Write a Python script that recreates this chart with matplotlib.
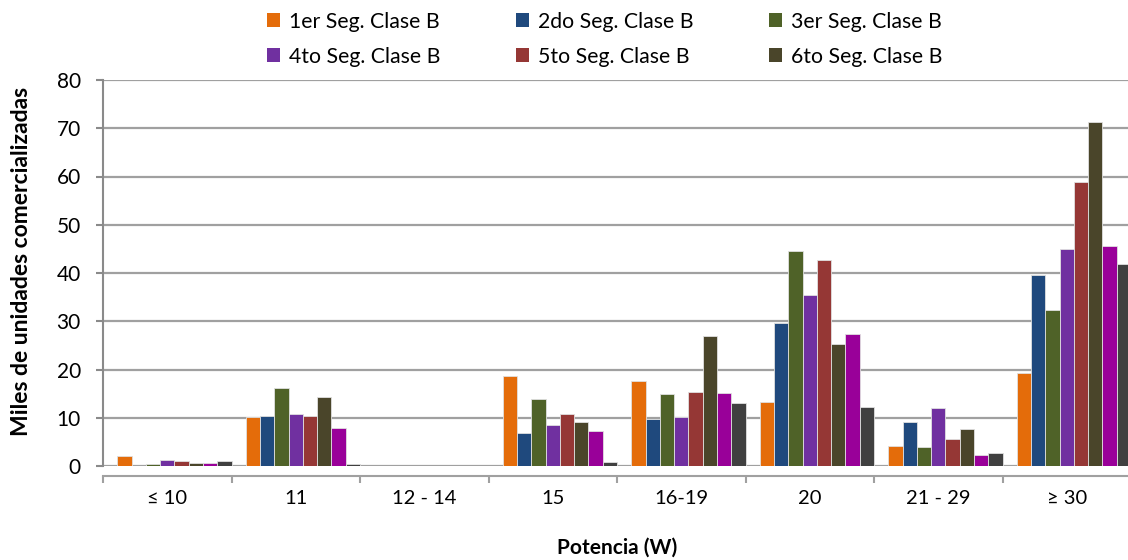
import matplotlib
matplotlib.use('Agg')
import matplotlib.pyplot as plt
from matplotlib.patches import Patch
import numpy as np

plt.rcParams['font.family'] = ['Lato', 'DejaVu Sans']

# Data (miles de unidades)
categorias = ['≤ 10', '11', '12 - 14', '15', '16-19', '20', '21 - 29', '≥ 30']
series = ['1er Seg. Clase B', '2do Seg. Clase B', '3er Seg. Clase B',
          '4to Seg. Clase B', '5to Seg. Clase B', '6to Seg. Clase B',
          '7mo Seg. Clase B', '8vo Seg. Clase B']
seg1 = [2.1, 10.1, 0, 18.7, 17.6, 13.3, 4.1, 19.3]
seg2 = [0, 10.4, 0, 6.9, 9.8, 29.7, 9.1, 39.5]
seg3 = [0.4, 16.1, 0, 13.9, 14.9, 44.6, 4.0, 32.3]
seg4 = [1.2, 10.8, 0, 8.6, 10.1, 35.4, 12.0, 44.9]
seg5 = [1.0, 10.3, 0, 10.8, 15.3, 42.7, 5.6, 58.8]
seg6 = [0.6, 14.4, 0, 9.1, 26.9, 25.3, 7.6, 71.2]
seg7 = [0.55, 7.8, 0, 7.2, 15.1, 27.4, 2.3, 45.5]
seg8 = [1.0, 0.35, 0, 0.9, 13.1, 12.3, 2.7, 41.9]
valores = [seg1, seg2, seg3, seg4, seg5, seg6, seg7, seg8]
colores = ['#e46c0a', '#1f497d', '#4f6228', '#7030a0',
           '#953735', '#4a452a', '#990099', '#404040']

W, H = 1128, 560
fs = 14.5
fig = plt.figure(figsize=(W / 100, H / 100), dpi=100)
ax = fig.add_axes([103 / W, (H - 466) / H, 1028 / W, 386 / H])

x = np.arange(len(categorias))
ancho = 1 / 9
for k, (vals, col) in enumerate(zip(valores, colores)):
    ax.bar(x + (k + 1) * ancho, vals, width=ancho, align='edge', color=col,
           edgecolor='#e0e0e0', linewidth=0.6, zorder=3, label=series[k])

gris = '#a0a0a0'
ax.set_xlim(0, len(categorias))
ax.set_ylim(0, 80)
ax.set_yticks(np.arange(0, 81, 10))
ax.grid(axis='y', color=gris, linewidth=1.6, zorder=0)
ax.set_axisbelow(True)

for s in ['top', 'right']:
    ax.spines[s].set_visible(False)
ax.spines['left'].set_color('#8a8a8a')
ax.spines['left'].set_linewidth(1.5)
ax.spines['bottom'].set_position(('outward', 7.2))
ax.spines['bottom'].set_color(gris)
ax.spines['bottom'].set_linewidth(1.5)

# category axis: boundary ticks, labels centred
ax.set_xticks(x + 0.5)
ax.set_xticklabels(categorias)
ax.set_xticks(np.arange(0, len(categorias) + 1), minor=True)
ax.tick_params(axis='x', which='major', length=0, pad=10, labelsize=fs)
ax.tick_params(axis='x', which='minor', length=5, width=1.5, color=gris, direction='out')
ax.tick_params(axis='y', length=5, width=1.5, color='#8a8a8a', pad=11, labelsize=fs + 0.5)

fig.text(22 / W, 1 - 261 / H, 'Miles de unidades comercializadas', rotation=90,
         ha='center', va='center', fontsize=16.5, fontweight='bold')
fig.text(617 / W, 1 - 548 / H, 'Potencia (W)', ha='center', va='center',
         fontsize=15, fontweight='bold')

# legend shows only the first six series, filled row by row
orden = [0, 3, 1, 4, 2, 5]
handles = [Patch(facecolor=colores[i], edgecolor='none') for i in orden]
fig.legend(handles, [series[i] for i in orden], loc='upper center', ncol=3,
           frameon=False, bbox_to_anchor=(605 / W, 1.0), fontsize=15.3,
           handlelength=0.62, handleheight=0.62, handletextpad=0.42,
           columnspacing=3.55, labelspacing=0.7, borderaxespad=0.15)

fig.savefig('out.png', dpi=100)
